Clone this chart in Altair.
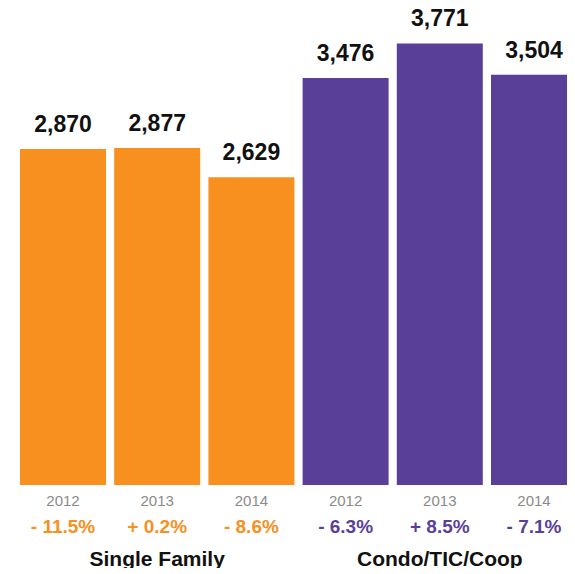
import altair as alt
import pandas as pd

groups = ["Single Family", "Condo/TIC/Coop"]
years = ["2012", "2013", "2014"]
values_sf = [2870, 2877, 2629]
values_condo = [3476, 3771, 3504]
changes_sf = ["- 11.5%", "+ 0.2%", "- 8.6%"]
changes_condo = ["- 6.3%", "+ 8.5%", "- 7.1%"]
colors = ["#F7901E", "#5A3F99"]

rows = []
for g, vals, chs in [(groups[0], values_sf, changes_sf), (groups[1], values_condo, changes_condo)]:
    for i, (y, v, c) in enumerate(zip(years, vals, chs)):
        rows.append({"group": g, "year": y, "value": v, "change": c,
                     "key": f"{g} {y}", "idx": i})
df = pd.DataFrame(rows)
keys = list(df["key"])

FONT = "Liberation Sans"

xscale = alt.Scale(range=[7.9, 573.1], paddingInner=0.087, paddingOuter=0.0435)
yscale = alt.Scale(domain=[0, 4000], range=[477, 8.6])
X = alt.X("key:N", sort=keys, scale=xscale, axis=None)
Y = alt.Y("value:Q", scale=yscale, axis=None)
Y0 = alt.datum(0)
color = alt.Color("group:N", scale=alt.Scale(domain=groups, range=colors), legend=None)

base = alt.Chart(df)

bars = base.mark_bar().encode(x=X, y=Y, color=color)

values_txt = base.mark_text(font=FONT, fontSize=23, fontWeight="bold", dy=-17,
                            baseline="alphabetic", color="#111111").encode(
    x=X, y=Y, text=alt.Text("value:Q", format=","))

year_txt = base.mark_text(font=FONT, fontSize=15, dy=21, baseline="alphabetic",
                          color="#8a8a8a").encode(x=X, y=Y0, text="year:N")

change_txt = base.mark_text(font=FONT, fontSize=19, fontWeight="bold", dy=48,
                            baseline="alphabetic").encode(
    x=X, y=Y0, text="change:N", color=color)

group_txt = base.mark_text(font=FONT, fontSize=21, fontWeight="bold", dy=81,
                           baseline="alphabetic", color="#111111").encode(
    x=X, y=Y0, text="group:N").transform_filter(alt.datum.idx == 1)

chart = alt.layer(bars, values_txt, year_txt, change_txt, group_txt).properties(
    width=559, height=560,
    autosize=alt.AutoSizeParams(type="none"),
    padding=0,
).configure_view(stroke=None)

chart.save("out.html", embed_options={"renderer": "svg", "actions": False})
